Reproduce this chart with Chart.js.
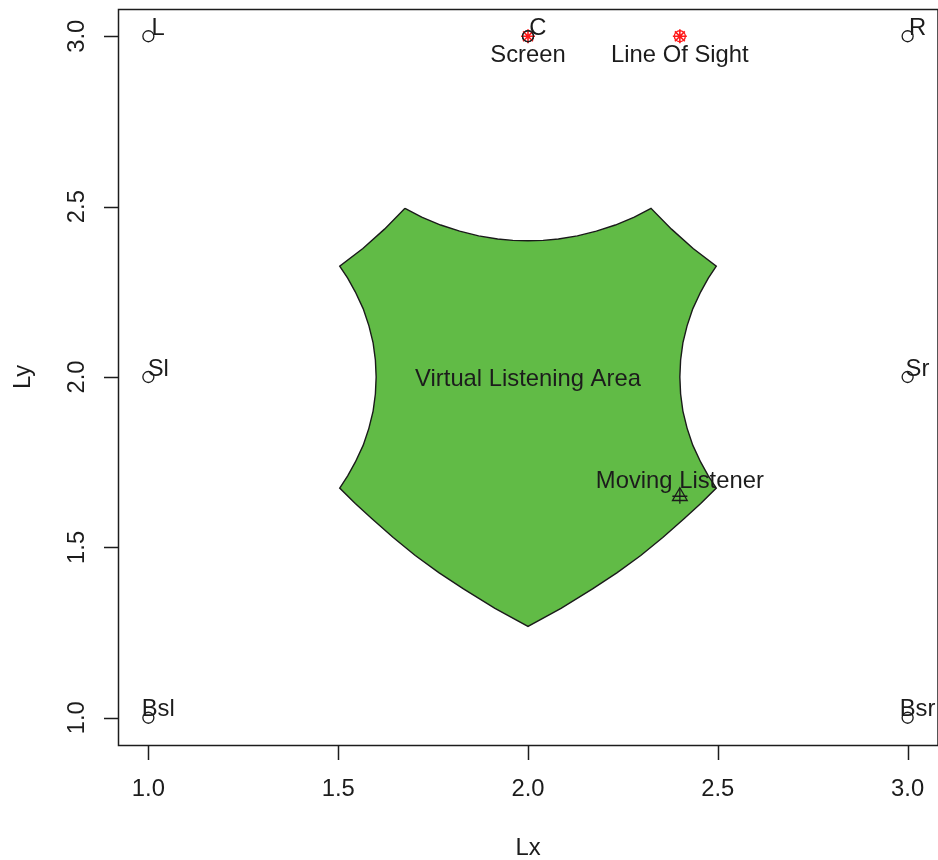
<!DOCTYPE html>
<html>
<head>
<meta charset="utf-8">
<script src="https://cdn.jsdelivr.net/npm/chart.js@4.4.1/dist/chart.umd.min.js"></script>
<style>
  html, body { margin: 0; padding: 0; background: #ffffff; overflow: hidden; }
  #wrap { width: 938px; height: 860px; }
</style>
</head>
<body>
<div id="wrap"><canvas id="c" width="938" height="860"></canvas></div>
<script>
// ---- data ----
const xTicks = [1.0, 1.5, 2.0, 2.5, 3.0];
const yTicks = [1.0, 1.5, 2.0, 2.5, 3.0];
const xTickLabels = ["1.0", "1.5", "2.0", "2.5", "3.0"];
const yTickLabels = ["1.0", "1.5", "2.0", "2.5", "3.0"];

// speakers
const speakerNames = ["L", "C", "R", "Sl", "Sr", "Bsl", "Bsr"];
const speakerX = [1, 2, 3, 1, 3, 1, 3];
const speakerY = [3, 3, 3, 2, 2, 1, 1];

// screen / line of sight / listener
const screenX = [2.0];
const screenY = [3.0];
const sightX = [2.4];
const sightY = [3.0];
const listenerX = [2.4];
const listenerY = [1.65];

// annotation texts
const noteText = ["Screen", "Line Of Sight", "Virtual Listening Area", "Moving Listener"];
const noteX = [2.0, 2.4, 2.0, 2.4];
const noteY = [2.95, 2.95, 2.0, 1.70];

// virtual listening area outline (clockwise from upper-left corner)
const areaX = [1.676, 1.72, 1.77, 1.82, 1.87, 1.92, 1.96, 2.00,
               2.04, 2.08, 2.13, 2.18, 2.23, 2.28, 2.324,
               2.378, 2.435, 2.496,
               2.475, 2.455, 2.434, 2.419, 2.408, 2.402, 2.40,
               2.402, 2.408, 2.419, 2.434, 2.455, 2.475, 2.496,
               2.455, 2.411, 2.355, 2.297, 2.235, 2.17, 2.087, 2.00,
               1.913, 1.83, 1.765, 1.703, 1.645, 1.589, 1.545, 1.504,
               1.525, 1.545, 1.566, 1.581, 1.592, 1.598, 1.60,
               1.598, 1.592, 1.581, 1.566, 1.545, 1.525, 1.504,
               1.565, 1.622, 1.676];
const areaY = [2.495, 2.469, 2.446, 2.428, 2.414, 2.405, 2.401, 2.400,
               2.401, 2.405, 2.414, 2.428, 2.446, 2.469, 2.495,
               2.434, 2.377, 2.325,
               2.29, 2.25, 2.20, 2.15, 2.10, 2.05, 2.00,
               1.95, 1.90, 1.85, 1.80, 1.75, 1.71, 1.674,
               1.629, 1.584, 1.529, 1.476, 1.426, 1.378, 1.321, 1.268,
               1.321, 1.378, 1.426, 1.476, 1.529, 1.584, 1.629, 1.674,
               1.71, 1.75, 1.80, 1.85, 1.90, 1.95, 2.00,
               2.05, 2.10, 2.15, 2.20, 2.25, 2.29, 2.325,
               2.377, 2.434, 2.495];

const toPts = (xs, ys) => xs.map((x, i) => ({ x: x, y: ys[i] }));

const FONT = "'Liberation Sans', Arial, Helvetica, sans-serif";
const FS = 23.8;
const CAP = 0.358 * FS; // half cap height
const INK = '#1c1c1c';
const RED = '#ff1a1a';

const overlay = {
  id: 'overlay',
  afterDatasetsDraw(chart) {
    const ctx = chart.ctx;
    const xs = chart.scales.x, ys = chart.scales.y;
    ctx.save();
    ctx.fillStyle = INK;
    ctx.font = FS + 'px ' + FONT;
    ctx.textAlign = 'center';
    ctx.textBaseline = 'alphabetic';
    speakerNames.forEach((t, i) => {
      const px = xs.getPixelForValue(speakerX[i] + 0.026);
      const py = ys.getPixelForValue(speakerY[i] + 0.029);
      ctx.fillText(t, px, py + CAP);
    });
    noteText.forEach((t, i) => {
      const px = xs.getPixelForValue(noteX[i]);
      const py = ys.getPixelForValue(noteY[i]);
      ctx.fillText(t, px, py + CAP);
    });
    ctx.restore();
  },
  afterDraw(chart) {
    const ctx = chart.ctx;
    const xs = chart.scales.x, ys = chart.scales.y;
    const a = chart.chartArea;
    ctx.save();
    ctx.strokeStyle = INK;
    ctx.lineWidth = 1.5;
    ctx.strokeRect(a.left + 0.5, a.top + 0.5, a.right - a.left - 0.5, a.bottom - a.top);
    ctx.beginPath();
    xTicks.forEach(v => {
      const p = Math.round(xs.getPixelForValue(v)) + 0.5;
      ctx.moveTo(p, a.bottom);
      ctx.lineTo(p, a.bottom + 15);
    });
    yTicks.forEach(v => {
      const p = Math.round(ys.getPixelForValue(v)) + 0.5;
      ctx.moveTo(a.left, p);
      ctx.lineTo(a.left - 14, p);
    });
    ctx.stroke();
    ctx.fillStyle = INK;
    ctx.font = FS + 'px ' + FONT;
    ctx.textAlign = 'center';
    ctx.textBaseline = 'alphabetic';
    xTicks.forEach((v, i) => {
      ctx.fillText(xTickLabels[i], xs.getPixelForValue(v), 787.5 + CAP);
    });
    yTicks.forEach((v, i) => {
      ctx.save();
      ctx.translate(75.5 + CAP, ys.getPixelForValue(v));
      ctx.rotate(-Math.PI / 2);
      ctx.fillText(yTickLabels[i], 0, 0);
      ctx.restore();
    });
    ctx.fillText('Lx', (a.left + a.right) / 2, 846 + CAP);
    ctx.save();
    ctx.translate(21 + CAP, (a.top + a.bottom) / 2);
    ctx.rotate(-Math.PI / 2);
    ctx.fillText('Ly', 0, 0);
    ctx.restore();
    ctx.restore();
  }
};

const ring = (data, color, order) => ({
  data: data, pointStyle: 'circle', pointRadius: 5.5,
  borderColor: color, backgroundColor: 'rgba(0,0,0,0)', borderWidth: 1.3, order: order
});

new Chart(document.getElementById('c'), {
  type: 'scatter',
  data: {
    datasets: [
      {
        label: 'area',
        data: toPts(areaX, areaY),
        showLine: true,
        fill: 'shape',
        backgroundColor: '#61bb46',
        borderColor: '#1a1a1a',
        borderWidth: 1.4,
        pointRadius: 0,
        tension: 0,
        order: 10
      },
      Object.assign({ label: 'speakers' }, ring(toPts(speakerX, speakerY), INK, 1)),
      Object.assign({ label: 'screen circle' }, ring(toPts(screenX, screenY), INK, 2)),
      {
        label: 'screen star',
        data: toPts(screenX, screenY),
        pointStyle: 'star', pointRadius: 7,
        borderColor: RED, backgroundColor: RED, borderWidth: 1.6, order: 1
      },
      Object.assign({ label: 'sight circle' }, ring(toPts(sightX, sightY), RED, 1)),
      {
        label: 'sight star',
        data: toPts(sightX, sightY),
        pointStyle: 'star', pointRadius: 7,
        borderColor: RED, backgroundColor: RED, borderWidth: 1.6, order: 1
      },
      {
        label: 'listener tri',
        data: toPts(listenerX, listenerY),
        pointStyle: 'triangle', pointRadius: 8.5,
        borderColor: INK, backgroundColor: 'rgba(0,0,0,0)', borderWidth: 1.3, order: 1
      },
      {
        label: 'listener cross',
        data: toPts(listenerX, listenerY),
        pointStyle: 'cross', pointRadius: 7.5,
        borderColor: INK, backgroundColor: INK, borderWidth: 1.3, order: 1
      }
    ]
  },
  options: {
    responsive: false,
    animation: false,
    devicePixelRatio: 1,
    layout: { padding: { top: 9, right: 0, left: 0, bottom: 0 }, autoPadding: false },
    plugins: { legend: { display: false }, tooltip: { enabled: false } },
    elements: { point: { hoverRadius: 0 } },
    scales: {
      x: {
        type: 'linear', min: 0.92, max: 3.08,
        grid: { display: false }, border: { display: false },
        ticks: { display: false },
        afterFit: s => { s.height = 115; s.paddingLeft = 0; s.paddingRight = 0; }
      },
      y: {
        type: 'linear', min: 0.92, max: 3.08,
        grid: { display: false }, border: { display: false },
        ticks: { display: false },
        afterFit: s => { s.width = 118; s.paddingTop = 0; s.paddingBottom = 0; }
      }
    }
  },
  plugins: [overlay]
});
</script>
</body>
</html>
